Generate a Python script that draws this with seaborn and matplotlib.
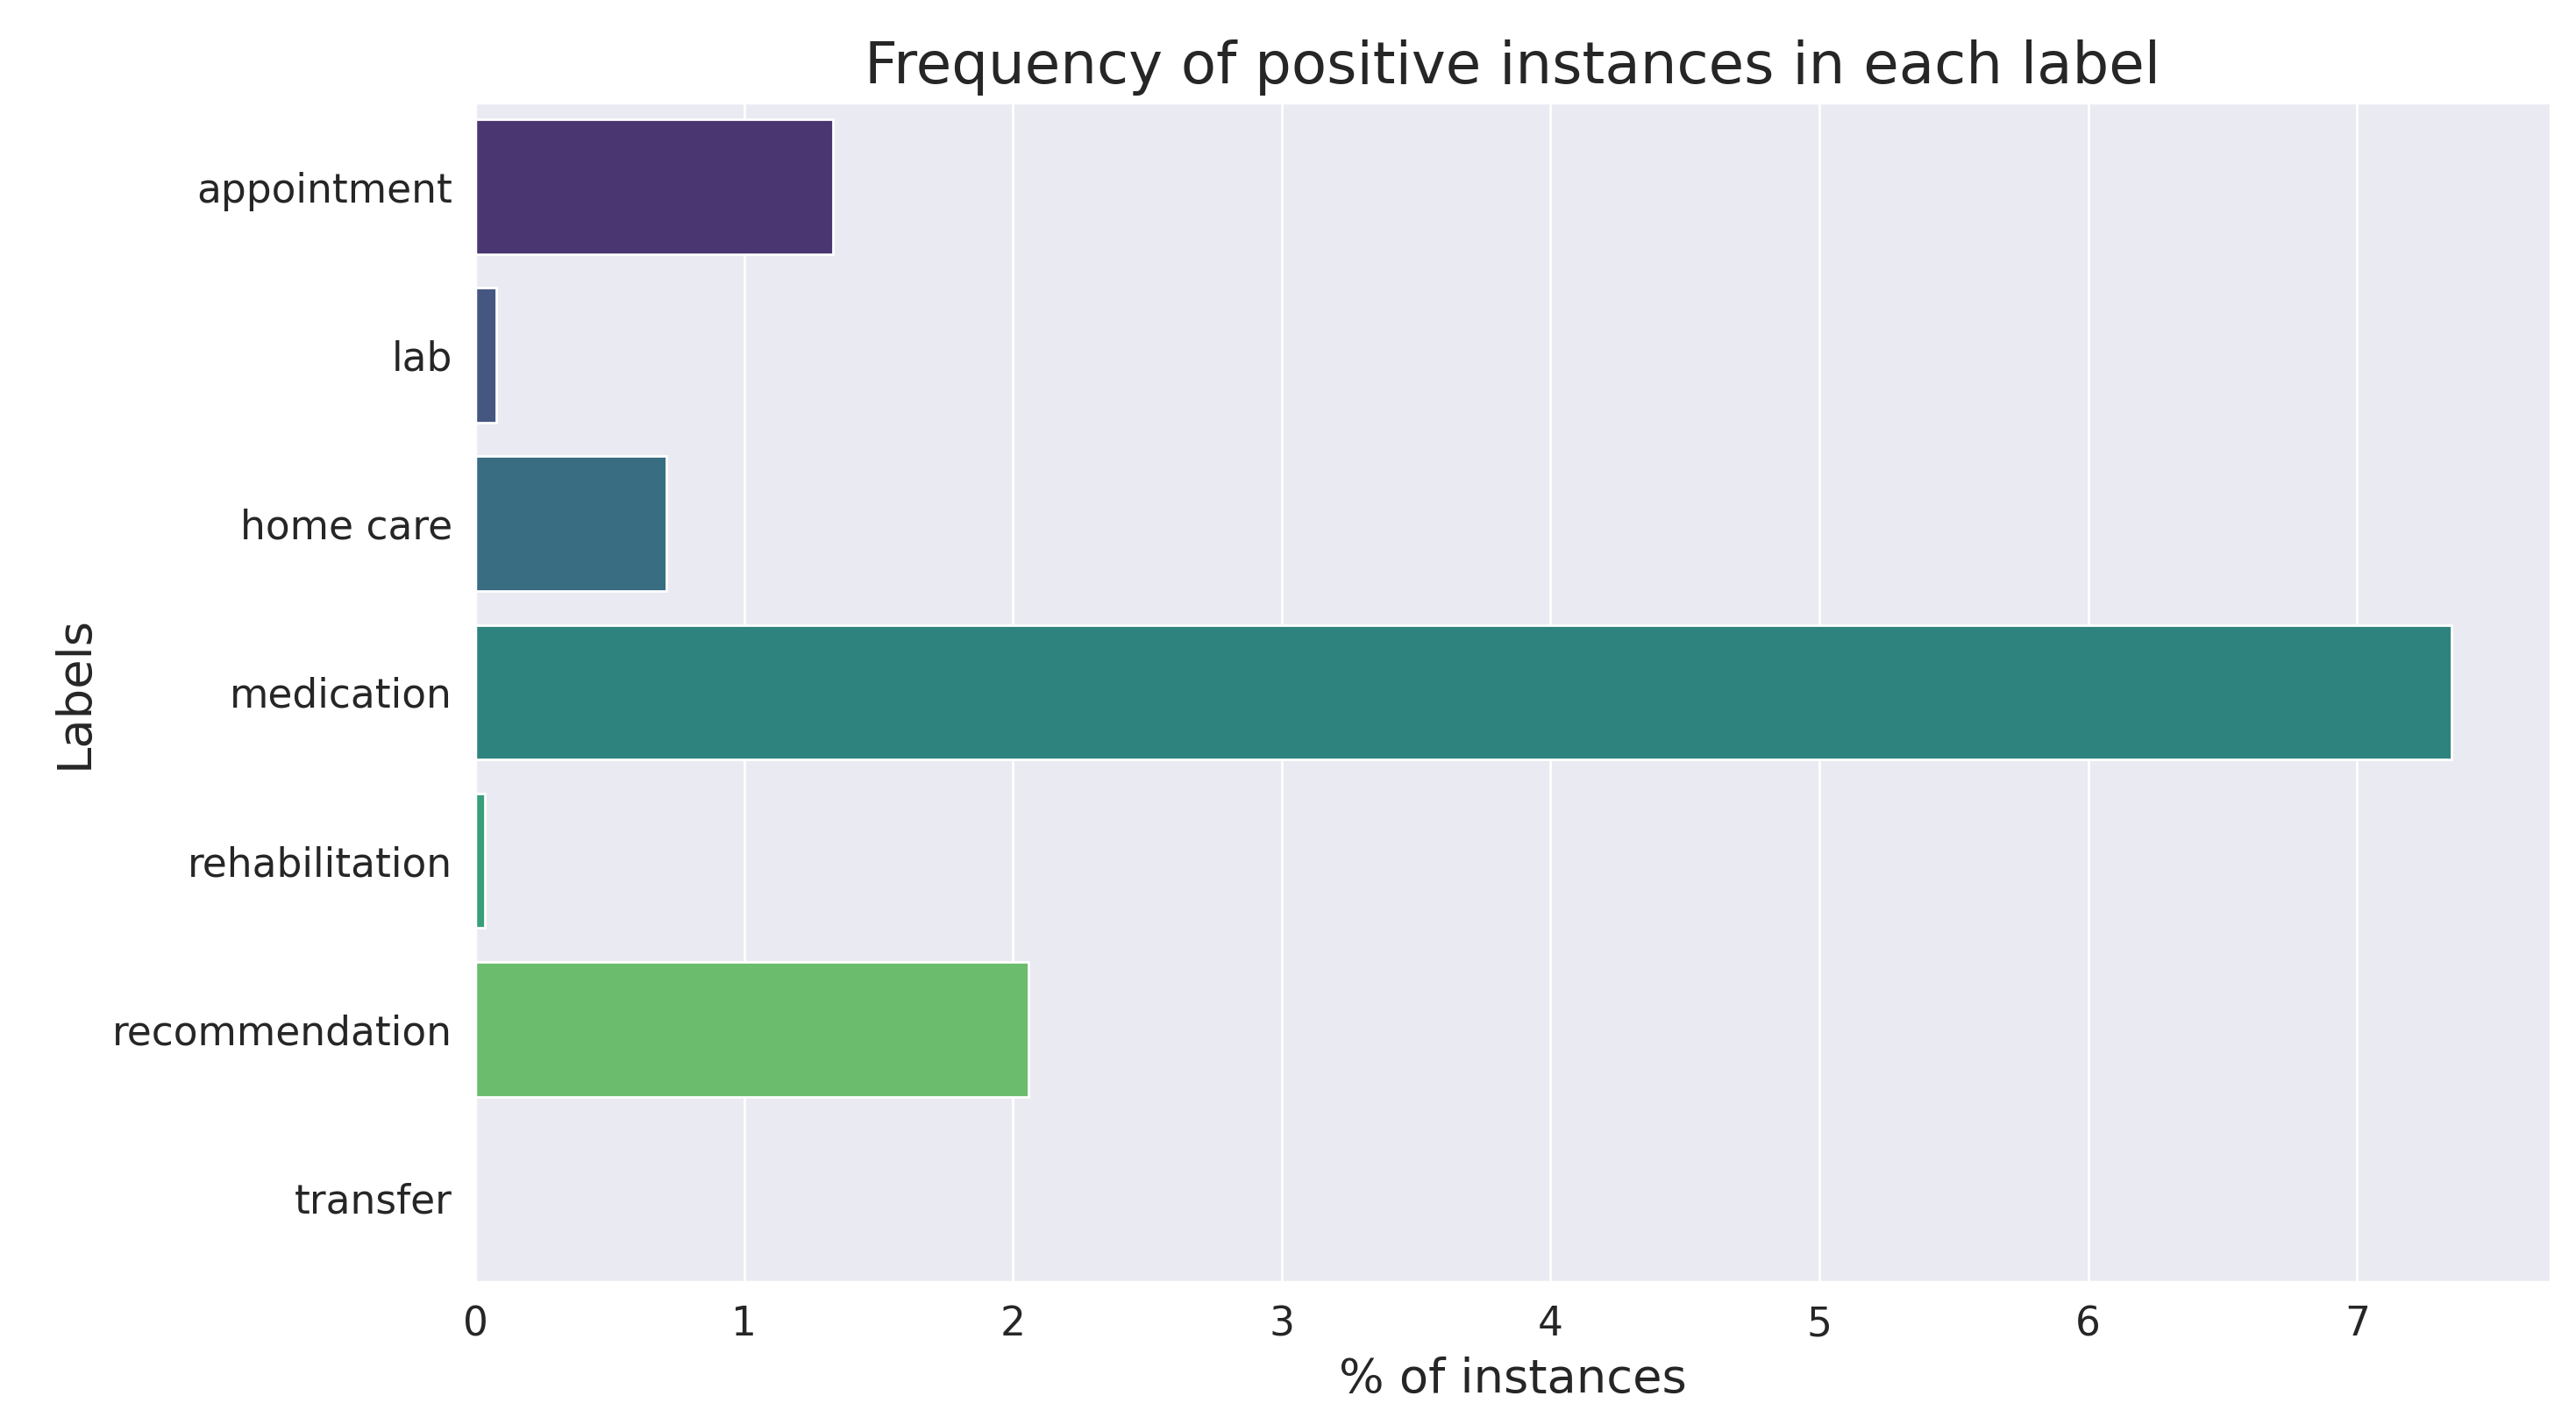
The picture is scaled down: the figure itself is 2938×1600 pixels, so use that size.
import matplotlib
matplotlib.use('Agg')
import matplotlib.pyplot as plt
import seaborn as sns
import pandas as pd

# values (% of instances that are positive)
labels = ['appointment', 'lab', 'home care', 'medication',
          'rehabilitation', 'recommendation', 'transfer']
pct_positive = [1.33, 0.077, 0.711, 7.352, 0.036, 2.058, 0.0]


def main():
    sns.set_theme(style='darkgrid')
    df = pd.DataFrame({'label': labels, 'pct': pct_positive})

    fig, ax = plt.subplots(figsize=(14.69, 8), dpi=200)
    fig.subplots_adjust(left=0.1845, right=0.9901, top=0.9269, bottom=0.08625)

    sns.barplot(data=df, x='pct', y='label', hue='label', palette='viridis',
                legend=False, ax=ax)

    ax.set_title('Frequency of positive instances in each label', fontsize=23.7, pad=8)
    ax.set_xlabel('% of instances', fontsize=19.6, labelpad=5)
    ax.set_ylabel('Labels', fontsize=19.6, labelpad=6)
    ax.tick_params(axis='both', labelsize=16.4)

    fig.savefig('out.png', dpi=200)
    plt.close(fig)


if __name__ == '__main__':
    main()
